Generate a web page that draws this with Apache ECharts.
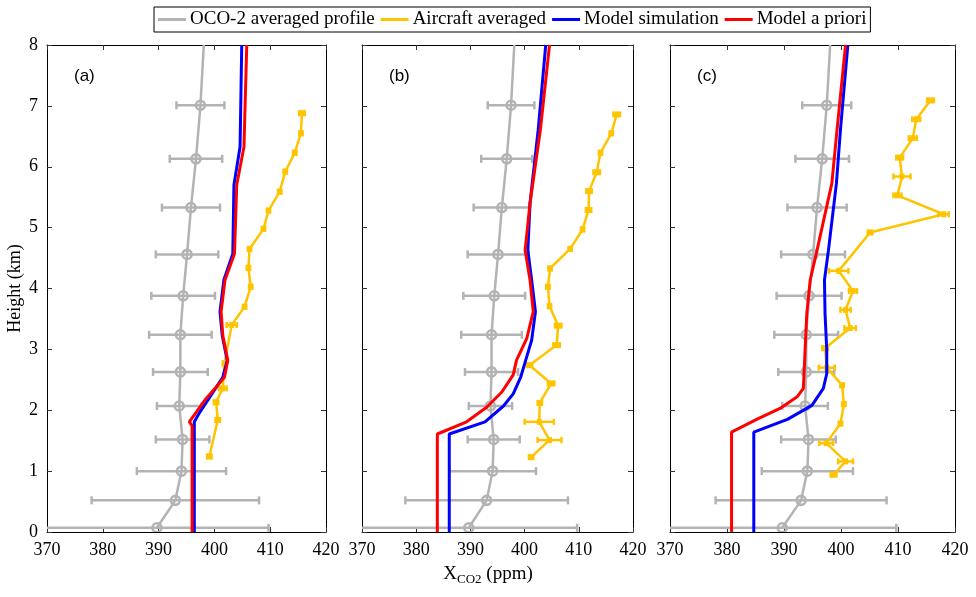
<!DOCTYPE html>
<html><head><meta charset="utf-8">
<script src="https://cdn.jsdelivr.net/npm/echarts@6/dist/echarts.min.js"></script>
<style>html,body{margin:0;padding:0;background:#fff}#c{width:976px;height:597px}</style>
</head><body><div id="c"></div><script>
// ---------- data ----------
const panelLabels = ['(a)', '(b)', '(c)'];
const xTicks = [370, 380, 390, 400, 410, 420];
const yTicks = [0, 1, 2, 3, 4, 5, 6, 7, 8];
const seriesNames = ['OCO-2 averaged profile', 'Aircraft averaged', 'Model simulation', 'Model a priori'];

// OCO-2 averaged profile (same in all panels)
const ocoHeight = [0.07, 0.52, 1.00, 1.52, 2.07, 2.63, 3.24, 3.88, 4.56, 5.33, 6.13, 7.01];
const ocoValue  = [389.7, 393.0, 394.1, 394.3, 393.7, 393.9, 393.9, 394.4, 395.1, 395.8, 396.7, 397.5];
const ocoError  = [20, 15, 8, 4.8, 4.0, 4.9, 5.6, 5.7, 5.6, 5.2, 4.7, 4.3];
const ocoTopHeight = 8;
const ocoTopValue = 398.1;

// Aircraft averaged
const airHeightA = [1.24, 1.84, 2.13, 2.36, 2.77, 3.40, 3.70, 4.03, 4.34, 4.65, 4.98, 5.28, 5.59, 5.92, 6.23, 6.55, 6.88];
const airValueA  = [399.1, 400.6, 400.3, 401.5, 401.8, 403.1, 405.4, 406.5, 406.1, 406.3, 408.8, 409.7, 411.7, 412.7, 414.4, 415.5, 415.7];
const airErrorA  = [0.4, 0.4, 0.4, 0.7, 0.3, 0.9, 0.3, 0.3, 0.3, 0.3, 0.3, 0.3, 0.3, 0.3, 0.3, 0.3, 0.5];

const airHeightB = [1.23, 1.51, 1.81, 2.12, 2.44, 2.74, 3.07, 3.39, 3.71, 4.03, 4.33, 4.65, 4.97, 5.29, 5.60, 5.91, 6.23, 6.55, 6.86];
const airValueB  = [401.2, 404.6, 402.7, 402.8, 404.9, 400.9, 405.9, 406.2, 404.6, 404.3, 404.7, 408.4, 410.7, 411.8, 411.9, 413.3, 414.0, 416.0, 417.0];
const airErrorB  = [0.4, 2.2, 2.7, 0.4, 0.6, 0.5, 0.6, 0.6, 0.3, 0.3, 0.3, 0.3, 0.3, 0.5, 0.5, 0.6, 0.3, 0.3, 0.6];

const airHeightC = [0.94, 1.16, 1.46, 1.78, 2.10, 2.41, 2.70, 3.02, 3.35, 3.65, 3.96, 4.29, 4.92, 5.22, 5.53, 5.84, 6.15, 6.47, 6.78, 7.09];
const airValueC  = [398.7, 400.8, 397.4, 399.9, 400.5, 400.2, 397.5, 397.2, 401.6, 400.8, 402.1, 399.6, 405.1, 418.0, 409.9, 410.7, 410.3, 412.6, 413.2, 415.7];
const airErrorC  = [0.5, 1.3, 1.2, 0.3, 0.3, 0.3, 1.4, 0.5, 1.0, 0.9, 0.7, 1.7, 0.4, 0.9, 0.7, 1.5, 0.6, 0.7, 0.7, 0.6];

// Model simulation
const simHeightA = [0, 1.81, 1.97, 2.54, 2.82, 3.23, 3.62, 4.14, 4.57, 5.70, 6.33, 8];
const simValueA  = [396.4, 396.4, 397.4, 401.5, 402.3, 401.4, 401.0, 401.7, 403.3, 403.5, 404.6, 404.9];
const simHeightB = [0, 1.61, 1.81, 2.07, 2.27, 2.55, 2.88, 3.15, 3.62, 4.14, 4.63, 5.40, 6.60, 8];
const simValueB  = [386.1, 386.1, 392.7, 396.1, 397.9, 399.3, 400.4, 401.3, 402.0, 401.3, 400.6, 401.0, 402.5, 403.9];
const simHeightC = [0, 1.64, 1.85, 2.08, 2.36, 2.60, 2.99, 3.59, 4.14, 4.63, 5.73, 6.60, 8];
const simValueC  = [384.7, 384.7, 390.6, 394.9, 396.9, 397.5, 397.5, 397.2, 397.1, 397.8, 399.2, 399.9, 401.2];

// Model a priori
const priHeightA = [0, 1.75, 1.81, 2.19, 2.54, 2.82, 3.23, 3.62, 4.14, 4.57, 5.70, 6.33, 8];
const priValueA  = [396.0, 396.0, 395.5, 398.5, 401.8, 402.4, 401.5, 401.2, 401.9, 403.6, 404.0, 405.3, 405.8];
const priHeightB = [0, 1.61, 1.81, 2.05, 2.30, 2.58, 2.82, 3.18, 3.62, 4.14, 4.63, 5.40, 6.60, 8];
const priValueB  = [383.9, 383.9, 389.3, 393.0, 395.8, 397.9, 398.5, 400.4, 401.6, 401.0, 400.1, 401.0, 402.9, 404.6];
const priHeightC = [0, 1.64, 1.85, 2.03, 2.22, 2.36, 2.99, 3.59, 4.14, 4.63, 5.73, 6.60, 8];
const priValueC  = [380.8, 380.8, 385.2, 389.3, 392.3, 393.4, 393.7, 394.0, 394.6, 395.8, 398.4, 399.3, 400.8];

// ---------- build ----------
const FONT = 'Liberation Serif';
const C_GRAY = '#B3B3B3', C_YEL = '#FFC400', C_BLUE = '#0000FF', C_RED = '#FF0000';
const grids = [
  { left: 47, top: 45, width: 279, height: 487 },
  { left: 362, top: 45, width: 271, height: 487 },
  { left: 670, top: 45, width: 285, height: 487 }
];
const panels = [
  { air: [airHeightA, airValueA, airErrorA], sim: [simHeightA, simValueA], pri: [priHeightA, priValueA] },
  { air: [airHeightB, airValueB, airErrorB], sim: [simHeightB, simValueB], pri: [priHeightB, priValueB] },
  { air: [airHeightC, airValueC, airErrorC], sim: [simHeightC, simValueC], pri: [priHeightC, priValueC] }
];
const pairs = (h, v) => h.map((y, i) => [v[i], y]);
const triples = (h, v, e) => h.map((y, i) => [v[i], y, e[i]]);

function errRender(color, cap, lw, markerType) {
  return function (params, api) {
    const x = api.value(0), y = api.value(1), e = api.value(2);
    const p = api.coord([x, y]);
    const l = api.coord([x - e, y]);
    const r = api.coord([x + e, y]);
    const st = { stroke: color, lineWidth: lw, fill: null };
    const ch = [
      { type: 'line', shape: { x1: l[0], y1: p[1], x2: r[0], y2: p[1] }, style: st },
      { type: 'line', shape: { x1: l[0], y1: p[1] - cap, x2: l[0], y2: p[1] + cap }, style: st },
      { type: 'line', shape: { x1: r[0], y1: p[1] - cap, x2: r[0], y2: p[1] + cap }, style: st }
    ];
    if (markerType === 'circle') {
      ch.push({ type: 'circle', shape: { cx: p[0], cy: p[1], r: 4.5 }, style: { stroke: color, lineWidth: 2.6, fill: null } });
    } else {
      ch.push({ type: 'rect', shape: { x: p[0] - 2.5, y: p[1] - 3, width: 5, height: 6 }, style: { fill: color, stroke: null } });
    }
    return { type: 'group', children: ch };
  };
}

const xAxes = [], yAxes = [], series = [], graphics = [];
grids.forEach((g, i) => {
  const axisCommon = {
    min: xTicks[0], max: xTicks[xTicks.length - 1], interval: 10, gridIndex: i, type: 'value',
    axisLine: { show: true, onZero: false, lineStyle: { color: '#000', width: 1 } },
    axisTick: { show: true, inside: true, length: 5, lineStyle: { color: '#333' } },
    splitLine: { show: false }
  };
  xAxes.push(Object.assign({}, axisCommon, {
    position: 'bottom',
    axisLabel: { show: true, color: '#000', fontFamily: FONT, fontSize: 18, margin: 9 }
  }));
  xAxes.push(Object.assign({}, axisCommon, { position: 'top', axisLabel: { show: false } }));
  const yCommon = {
    min: yTicks[0], max: yTicks[yTicks.length - 1], interval: 1, gridIndex: i, type: 'value',
    axisLine: { show: true, onZero: false, lineStyle: { color: '#000', width: 1 } },
    axisTick: { show: true, inside: true, length: 5, lineStyle: { color: '#333' } },
    splitLine: { show: false }
  };
  yAxes.push(Object.assign({}, yCommon, {
    position: 'left',
    axisLabel: { show: i === 0, color: '#000', fontFamily: FONT, fontSize: 18, margin: 9 },
    name: i === 0 ? 'Height (km)' : '', nameLocation: 'middle', nameGap: 23, nameRotate: 90,
    nameTextStyle: { fontFamily: FONT, fontSize: 18, color: '#000' }
  }));
  yAxes.push(Object.assign({}, yCommon, { position: 'right', axisLabel: { show: false } }));

  const xi = i * 2, yi = i * 2;
  const P = panels[i];
  series.push({
    name: seriesNames[0], type: 'line', xAxisIndex: xi, yAxisIndex: yi, color: C_GRAY,
    showSymbol: false, lineStyle: { color: C_GRAY, width: 2.5 }, z: 2, animation: false,
    data: pairs(ocoHeight, ocoValue).concat([[ocoTopValue, ocoTopHeight]])
  });
  series.push({
    name: 'oco-err-' + i, type: 'custom', xAxisIndex: xi, yAxisIndex: yi, clip: true, z: 2,
    renderItem: errRender(C_GRAY, 4, 2.5, 'circle'), animation: false,
    data: triples(ocoHeight, ocoValue, ocoError)
  });
  series.push({
    name: seriesNames[1], type: 'line', xAxisIndex: xi, yAxisIndex: yi, color: C_YEL,
    showSymbol: false, lineStyle: { color: C_YEL, width: 2.5 }, z: 3, animation: false,
    data: pairs(P.air[0], P.air[1])
  });
  series.push({
    name: 'air-err-' + i, type: 'custom', xAxisIndex: xi, yAxisIndex: yi, clip: true, z: 3,
    renderItem: errRender(C_YEL, 3, 2.5, 'rect'), animation: false,
    data: triples(P.air[0], P.air[1], P.air[2])
  });
  series.push({
    name: seriesNames[2], type: 'line', xAxisIndex: xi, yAxisIndex: yi, color: C_BLUE,
    showSymbol: false, lineStyle: { color: C_BLUE, width: 3 }, z: 4, animation: false,
    data: pairs(P.sim[0], P.sim[1])
  });
  series.push({
    name: seriesNames[3], type: 'line', xAxisIndex: xi, yAxisIndex: yi, color: C_RED,
    showSymbol: false, lineStyle: { color: C_RED, width: 3 }, z: 5, animation: false,
    data: pairs(P.pri[0], P.pri[1])
  });
  graphics.push({
    type: 'text', left: g.left + 27, top: 68,
    style: { text: panelLabels[i], font: '17px "Liberation Sans"', fill: '#000' }
  });
});

graphics.push({
  type: 'text', left: 'center', top: 563,
  style: {
    text: '{x|X}{s|CO2}{x| (ppm)}',
    rich: {
      x: { fontFamily: FONT, fontSize: 19, fill: '#000', lineHeight: 22 },
      s: { fontFamily: FONT, fontSize: 13, fill: '#000', padding: [10, 0, 0, 0], lineHeight: 22 }
    }
  }
});

const chart = echarts.init(document.getElementById('c'), null, { renderer: 'canvas' });
chart.setOption({
  animation: false,
  backgroundColor: '#fff',
  grid: grids,
  xAxis: xAxes,
  yAxis: yAxes,
  legend: {
    data: seriesNames,
    left: 154, top: 7,
    orient: 'horizontal',
    icon: 'rect', itemWidth: 28, itemHeight: 3, itemGap: 6,
    borderColor: '#000', borderWidth: 1, borderRadius: 0,
    padding: [3, 4, 3, 4],
    textStyle: { fontFamily: FONT, fontSize: 19, color: '#000', padding: [0, 0, 0, -1] }
  },
  graphic: graphics,
  series: series
});
</script></body></html>
